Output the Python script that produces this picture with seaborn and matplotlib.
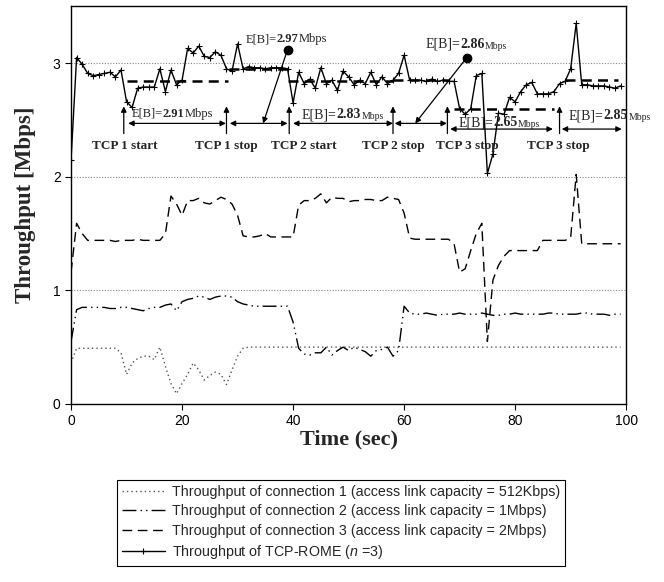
import matplotlib
matplotlib.use("Agg")
import matplotlib.pyplot as plt
import seaborn as sns
import numpy as np

# one sample per second, 0..99 s
time_sec = np.arange(100)

# connection 1 (access link 512Kbps)
conn1 = [0.36, 0.49, 0.49, 0.49, 0.49, 0.49, 0.49, 0.49, 0.49, 0.45,
         0.26, 0.36, 0.40, 0.42, 0.42, 0.39, 0.50, 0.33, 0.18, 0.09,
         0.18, 0.26, 0.36, 0.30, 0.21, 0.25, 0.28, 0.26, 0.17, 0.30,
         0.42, 0.49, 0.50, 0.50, 0.50, 0.50, 0.50, 0.50, 0.50, 0.50,
         0.50, 0.50, 0.50, 0.50, 0.50, 0.50, 0.50, 0.50, 0.50, 0.50,
         0.50, 0.50, 0.50, 0.50, 0.50, 0.50, 0.50, 0.50, 0.50, 0.50,
         0.50, 0.50, 0.50, 0.50, 0.50, 0.50, 0.50, 0.50, 0.50, 0.50,
         0.50, 0.50, 0.50, 0.50, 0.50, 0.50, 0.50, 0.50, 0.50, 0.50,
         0.50, 0.50, 0.50, 0.50, 0.50, 0.50, 0.50, 0.50, 0.50, 0.50,
         0.50, 0.50, 0.50, 0.50, 0.50, 0.50, 0.50, 0.50, 0.50, 0.50]

# connection 2 (access link 1Mbps)
conn2 = [0.55, 0.83, 0.85, 0.85, 0.85, 0.85, 0.85, 0.84, 0.84, 0.85,
         0.85, 0.84, 0.83, 0.82, 0.84, 0.85, 0.85, 0.87, 0.88, 0.82,
         0.90, 0.92, 0.93, 0.95, 0.94, 0.92, 0.94, 0.95, 0.95, 0.94,
         0.90, 0.88, 0.87, 0.86, 0.86, 0.86, 0.86, 0.86, 0.86, 0.86,
         0.72, 0.49, 0.44, 0.43, 0.45, 0.45, 0.50, 0.43, 0.47, 0.50,
         0.47, 0.50, 0.48, 0.46, 0.42, 0.47, 0.48, 0.50, 0.42, 0.47,
         0.86, 0.80, 0.79, 0.79, 0.80, 0.79, 0.78, 0.79, 0.79, 0.79,
         0.80, 0.79, 0.79, 0.79, 0.80, 0.79, 0.78, 0.78, 0.79, 0.79,
         0.80, 0.79, 0.79, 0.79, 0.79, 0.79, 0.80, 0.80, 0.79, 0.79,
         0.79, 0.79, 0.80, 0.80, 0.79, 0.79, 0.79, 0.78, 0.79, 0.79]

# connection 3 (access link 2Mbps)
conn3 = [1.16, 1.59, 1.50, 1.44, 1.44, 1.44, 1.44, 1.44, 1.43, 1.44,
         1.44, 1.44, 1.45, 1.44, 1.44, 1.44, 1.44, 1.50, 1.83, 1.76,
         1.66, 1.79, 1.79, 1.81, 1.77, 1.76, 1.79, 1.82, 1.80, 1.76,
         1.66, 1.48, 1.47, 1.47, 1.48, 1.50, 1.47, 1.47, 1.47, 1.47,
         1.47, 1.75, 1.79, 1.79, 1.81, 1.85, 1.77, 1.82, 1.81, 1.81,
         1.78, 1.79, 1.79, 1.80, 1.80, 1.79, 1.79, 1.82, 1.81, 1.80,
         1.68, 1.46, 1.45, 1.45, 1.45, 1.45, 1.45, 1.45, 1.45, 1.41,
         1.16, 1.19, 1.35, 1.50, 1.59, 0.55, 1.09, 1.22, 1.30, 1.35,
         1.35, 1.35, 1.35, 1.35, 1.35, 1.44, 1.44, 1.44, 1.44, 1.44,
         1.46, 2.02, 1.41, 1.41, 1.41, 1.41, 1.41, 1.41, 1.41, 1.41]

# TCP-ROME aggregate
rome = [2.15, 3.05, 2.99, 2.91, 2.89, 2.90, 2.91, 2.92, 2.88, 2.94,
        2.66, 2.61, 2.78, 2.79, 2.79, 2.79, 2.95, 2.75, 2.94, 2.81,
        2.85, 3.13, 3.09, 3.15, 3.06, 3.05, 3.10, 3.07, 2.95, 2.93,
        3.17, 2.95, 2.97, 2.96, 2.96, 2.95, 2.96, 2.96, 2.96, 2.95,
        2.65, 2.92, 2.82, 2.86, 2.78, 2.96, 2.82, 2.85, 2.76, 2.93,
        2.88, 2.81, 2.85, 2.82, 2.92, 2.81, 2.88, 2.82, 2.85, 2.91,
        3.07, 2.85, 2.85, 2.85, 2.84, 2.86, 2.84, 2.85, 2.84, 2.84,
        2.60, 2.55, 2.60, 2.89, 2.91, 2.03, 2.20, 2.56, 2.55, 2.70,
        2.66, 2.75, 2.81, 2.83, 2.73, 2.73, 2.73, 2.75, 2.82, 2.84,
        2.95, 3.35, 2.81, 2.81, 2.80, 2.80, 2.80, 2.79, 2.78, 2.80]

series_labels = [
    "Throughput of connection 1 (access link capacity = 512Kbps)",
    "Throughput of connection 2 (access link capacity = 1Mbps)",
    "Throughput of connection 3 (access link capacity = 2Mbps)",
    "Throughput of TCP-ROME ($n$ =3)",
]

# mean throughput levels (thick dashed)
mean_start = [10, 28.5, 39, 58, 69, 89]
mean_end = [28.3, 39, 58, 68, 87, 98.5]
mean_level = [2.84, 2.95, 2.84, 2.85, 2.60, 2.85]

# events
event_times = [9.5, 28, 39.3, 58, 67.8, 88]
event_text_x = [9.7, 28, 42, 58, 71.4, 87.7]
event_labels = ["TCP 1 start", "TCP 1 stop", "TCP 2 start",
                "TCP 2 stop", "TCP 3 stop", "TCP 3 stop"]

# E[B] intervals
seg_start = [10.3, 28.6, 40, 58.3, 68.3, 88.4]
seg_end = [27.9, 39, 58, 67.7, 86.8, 99.2]
seg_y = [2.47, 2.47, 2.47, 2.47, 2.42, 2.42]
eb_values = ["2.91", "2.97", "2.83", "2.86", "2.65", "2.85"]
eb_text_x = [10.9, 31.4, 41.6, 63.8, 69.8, 89.7]
eb_text_y = [2.50, 3.16, 2.49, 3.11, 2.42, 2.48]
eb_size = [9, 9, 10, 10, 10, 10]
eb_unit_size = [9, 9, 7, 7, 7, 7]
# call-outs: (segment index, dot x, dot y, tip x, tip y)
callouts = [(1, 39.0, 3.12, 34.6, 2.47), (3, 71.3, 3.05, 62.0, 2.47)]

sns.set_theme(style="ticks")
plt.rcParams['font.family'] = ['Liberation Sans', 'DejaVu Sans']
plt.rcParams['mathtext.fontset'] = 'custom'
plt.rcParams['mathtext.it'] = 'Liberation Sans:italic'
plt.rcParams['mathtext.rm'] = 'Liberation Sans'
SERIF = 'Liberation Serif'

fig = plt.figure(figsize=(6.64, 5.82), dpi=100)
ax = fig.add_axes([0.107, 0.306, 0.836, 0.683])

sns.lineplot(x=time_sec, y=conn1, ax=ax, color='#555555', lw=1.0,
             linestyle=(0, (1, 2.2)), label=series_labels[0])
sns.lineplot(x=time_sec, y=conn2, ax=ax, color='black', lw=1.0,
             linestyle=(0, (10, 3, 1, 3, 1, 3)), label=series_labels[1])
sns.lineplot(x=time_sec, y=conn3, ax=ax, color='black', lw=1.0,
             linestyle=(0, (7, 4)), label=series_labels[2])
sns.lineplot(x=time_sec, y=rome, ax=ax, color='black', lw=1.0,
             marker='+', markersize=4, markeredgewidth=0.8,
             markeredgecolor='black', label=series_labels[3])

handles, labels = ax.get_legend_handles_labels()
ax.get_legend().remove()

for s, e, lev in zip(mean_start, mean_end, mean_level):
    ax.plot([s, e], [lev, lev], color='black', lw=1.8, linestyle=(0, (4, 2.5)))

arrow_kw = dict(color='black', lw=0.9, mutation_scale=8, shrinkA=0, shrinkB=0)

for t, tx, lab in zip(event_times, event_text_x, event_labels):
    ax.annotate("", xy=(t, 2.62), xytext=(t, 2.38),
                arrowprops=dict(arrowstyle='-|>', **arrow_kw))
    ax.text(tx, 2.27, lab, ha='center', va='center', fontfamily=SERIF,
            fontweight='bold', fontsize=9.5)

for s, e, y in zip(seg_start, seg_end, seg_y):
    ax.annotate("", xy=(e, y), xytext=(s, y),
                arrowprops=dict(arrowstyle='<|-|>', **arrow_kw))


def eb_label(x, y, value, size, unit_size):
    t1 = ax.text(x, y, "E[B]=", fontfamily=SERIF, fontsize=size,
                 ha='left', va='bottom')
    t2 = ax.annotate(value, xy=(1, 0), xycoords=t1, fontfamily=SERIF,
                     fontweight='bold', fontsize=size, ha='left', va='bottom')
    ax.annotate("Mbps", xy=(1, 0), xycoords=t2, fontfamily=SERIF,
                fontsize=unit_size, ha='left', va='bottom')


for i in range(len(eb_values)):
    eb_label(eb_text_x[i], eb_text_y[i], eb_values[i], eb_size[i], eb_unit_size[i])

for idx, dx, dy, tx, ty in callouts:
    ax.plot(dx, dy, 'o', color='black', ms=6)
    ax.annotate("", xy=(tx, ty), xytext=(dx, dy),
                arrowprops=dict(arrowstyle='-|>', **arrow_kw))

ax.set_xlim(0, 100)
ax.set_ylim(0, 3.5)
ax.set_xticks([0, 20, 40, 60, 80, 100])
ax.set_yticks([0, 1, 2, 3])
ax.yaxis.grid(True, color='#888888', lw=0.8, linestyle=(0, (1, 1.5)))
ax.tick_params(direction='out', length=4, width=0.8, labelsize=10, colors='black')
for sp in ax.spines.values():
    sp.set_color('black')
    sp.set_linewidth(1.0)

ax.set_xlabel("Time (sec)", fontfamily=SERIF, fontweight='bold', fontsize=16, labelpad=1)
ax.set_ylabel("Throughput [Mbps]", fontfamily=SERIF, fontweight='bold', fontsize=16.5, labelpad=12)

leg = fig.legend(handles, series_labels, loc='upper left',
                 bbox_to_anchor=(117 / 664, 1 - 480 / 582), frameon=True,
                 fancybox=False, edgecolor='black', framealpha=1,
                 fontsize=10.3, handlelength=3.0, handletextpad=0.5,
                 labelspacing=0.38, borderpad=0.35, borderaxespad=0)
leg.get_frame().set_linewidth(0.8)

fig.savefig("out.png", dpi=100)
